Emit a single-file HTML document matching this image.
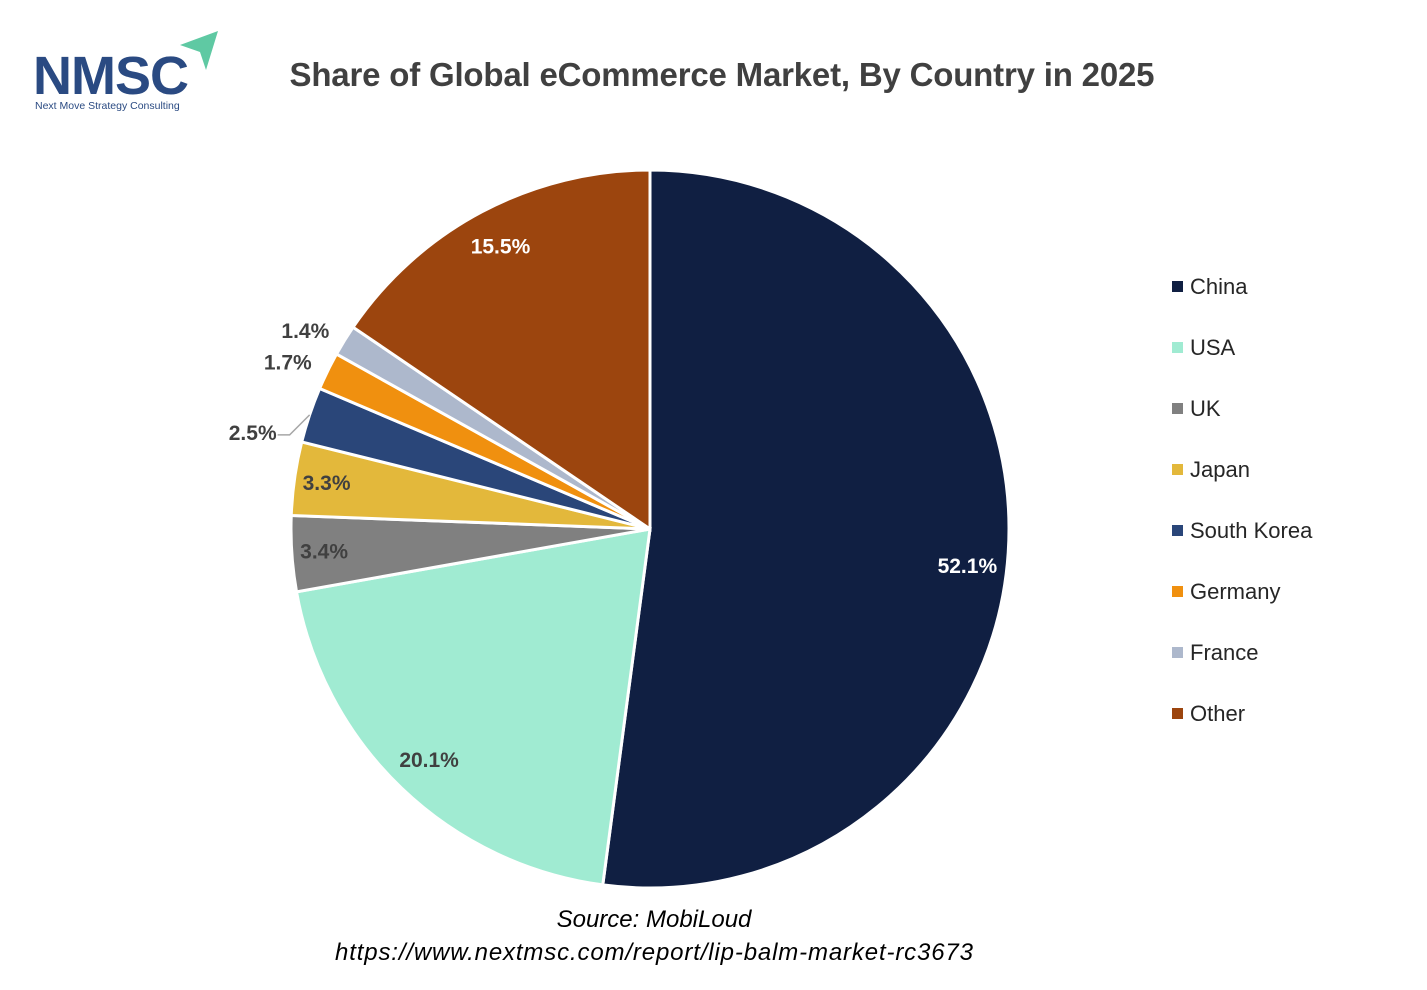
<!DOCTYPE html>
<html><head><meta charset="utf-8"><style>
body{margin:0;background:#fff;width:1427px;height:985px;overflow:hidden;font-family:"Liberation Sans",sans-serif}
</style></head><body>
<svg width="1427" height="985" xmlns="http://www.w3.org/2000/svg">
<g>
<text x="33" y="94" font-size="54" font-weight="bold" fill="#2a4a82" letter-spacing="6" font-family="Liberation Sans, sans-serif" textLength="162">NMSC</text>
<polygon points="180,45 218,31 206,70 200,52" fill="#5fc9a3"/>
<text x="35" y="109" font-size="10.5" fill="#2a4a82">Next Move Strategy Consulting</text>
</g>
<text x="722" y="86" text-anchor="middle" font-size="33" font-weight="bold" fill="#404040" textLength="865">Share of Global eCommerce Market, By Country in 2025</text>
<g id="pie"></g>
<g id="legend"></g>
<text x="654" y="927" text-anchor="middle" font-size="24" font-style="italic" fill="#000">Source: MobiLoud</text>
<text x="654" y="960" text-anchor="middle" font-size="24" font-style="italic" fill="#000" textLength="638">https://www.nextmsc.com/report/lip-balm-market-rc3673</text>
</svg>
<script>
const categories=["China","USA","UK","Japan","South Korea","Germany","France","Other"];
const values=[52.1,20.1,3.4,3.3,2.5,1.7,1.4,15.5];
const labels=["52.1%","20.1%","3.4%","3.3%","2.5%","1.7%","1.4%","15.5%"];
const colors=["#101f42","#a0ebd2","#808080","#e3b83b","#2a4679","#f0900f","#adb8cc","#9c450e"];
const NS="http://www.w3.org/2000/svg";
const cx=650,cy=529,R=359;
const total=values.reduce((a,b)=>a+b,0);
function pt(frac,r){const a=frac*2*Math.PI;return [cx+r*Math.sin(a),cy-r*Math.cos(a)];}
const pie=document.getElementById('pie');
let acc=0;
values.forEach((v,i)=>{
  const f0=acc/total,f1=(acc+v)/total;acc+=v;
  const [x0,y0]=pt(f0,R),[x1,y1]=pt(f1,R);
  const p=document.createElementNS(NS,'path');
  p.setAttribute('d',`M${cx},${cy}L${x0},${y0}A${R},${R} 0 ${f1-f0>0.5?1:0} 1 ${x1},${y1}Z`);
  p.setAttribute('fill',colors[i]);p.setAttribute('stroke','#fff');p.setAttribute('stroke-width','3');
  
  
  pie.appendChild(p);
  const fm=(f0+f1)/2;
  const t=document.createElementNS(NS,'text');
  t.textContent=labels[i];
  t.setAttribute('font-size','21');t.setAttribute('font-weight','bold');
  if(v>=3){
    const [lx,ly]=pt(v>40?fm+0.008:fm,v>10?R*0.89:R*0.91);
    t.setAttribute('x',lx);t.setAttribute('y',ly+7);t.setAttribute('text-anchor','middle');
    t.setAttribute('fill',(i===0||i===7)?'#fff':'#404040');
  }else if(v>2){
    const [ax,ay]=pt(fm,R);
    const lx=ax-32,ly=ay+20;
    const l=document.createElementNS(NS,'polyline');
    l.setAttribute('points',`${ax},${ay} ${lx+12},${ly} ${lx},${ly}`);
    l.setAttribute('fill','none');l.setAttribute('stroke','#a6a6a6');l.setAttribute('stroke-width','1.5');
    
    
    pie.appendChild(l);
    t.setAttribute('x',lx-1);t.setAttribute('y',ly+5);t.setAttribute('text-anchor','end');
    t.setAttribute('fill','#404040');
  }else{
    const [lx,ly]=pt(fm,R*1.04);
    t.setAttribute('x',lx-3);t.setAttribute('y',ly+5);t.setAttribute('text-anchor','end');
    t.setAttribute('fill','#404040');
  }
  
  
  pie.appendChild(t);
});
const lg=document.getElementById('legend');
categories.forEach((c,i)=>{
  const y=286+i*61;
  const g=document.createElementNS(NS,'g');
  
  
  const r=document.createElementNS(NS,'rect');
  r.setAttribute('x',1172);r.setAttribute('y',y-5);r.setAttribute('width',11);r.setAttribute('height',11);r.setAttribute('fill',colors[i]);
  const t=document.createElementNS(NS,'text');
  t.setAttribute('x',1190);t.setAttribute('y',y+8);t.setAttribute('font-size','22');t.setAttribute('fill','#262626');
  t.textContent=c;
  g.appendChild(r);g.appendChild(t);lg.appendChild(g);
});
</script>
</body></html>
